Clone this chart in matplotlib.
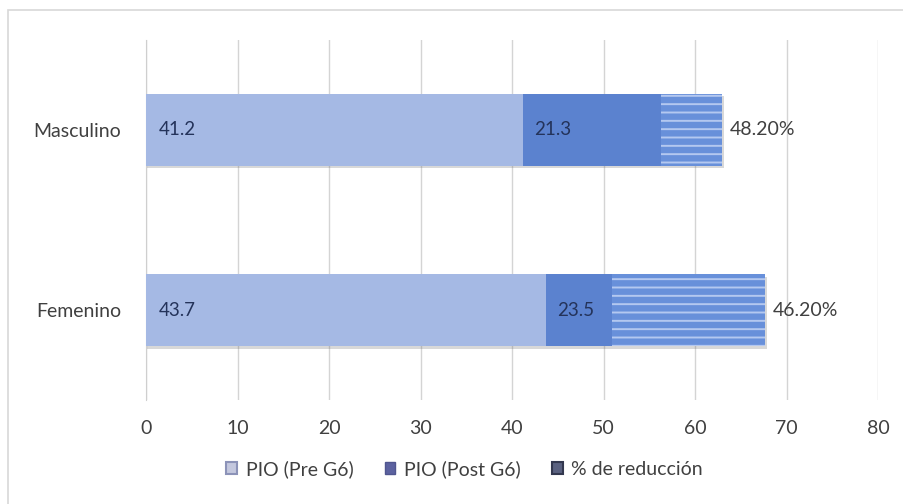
import matplotlib
matplotlib.use("Agg")
import matplotlib.pyplot as plt
import matplotlib.patheffects as pe
from matplotlib.patches import Patch, Rectangle
import numpy as np

plt.rcParams['font.family'] = ['Lato', 'DejaVu Sans']
plt.rcParams['hatch.linewidth'] = 1.4

categories = ["Femenino", "Masculino"]
pio_pre = [43.7, 41.2]
pio_post = [23.5, 21.3]
reduccion_pct = [46.2, 48.2]
# start of the striped band drawn over the post segment
stripe_from = [50.9, 56.3]

c_pre = "#a5b9e4"
c_post = "#5b82cf"
c_stripe_bg = "#6890da"
txt = "#404040"
fs = 14

fig = plt.figure(figsize=(9.04, 5.04), dpi=100)
ax = fig.add_axes([0.1615, 0.206, 0.810, 0.715])

y = np.arange(len(categories))
h = 0.40
pre = np.array(pio_pre)
post = np.array(pio_post)
pct = np.array(reduccion_pct) / 100.0
ends = pre + post + pct

shadow = [pe.SimplePatchShadow(offset=(1.0, -1.8), shadow_rgbFace="#666666", alpha=0.25),
          pe.Normal()]

# soft drop shadow under the full stacked bar
ax.barh(y, ends, height=h, color="#8da4d6", edgecolor="none", zorder=2,
        path_effects=shadow)
ax.barh(y, pre, height=h, color=c_pre, edgecolor="none", zorder=3)
ax.barh(y, post, left=pre, height=h, color=c_post, edgecolor="none", zorder=3)
ax.barh(y, pct, left=pre + post, height=h, color=c_stripe_bg, edgecolor="none", zorder=3)
sf = np.array(stripe_from)
ax.barh(y, ends - sf, left=sf, height=h, color=c_stripe_bg, edgecolor="#b4c8f0",
        hatch="--", linewidth=0, zorder=4)

for i in range(len(categories)):
    ax.text(1.4, y[i], f"{pio_pre[i]:.1f}", va="center", ha="left",
            fontsize=fs - 0.5, color="#24335a", zorder=5)
    ax.text(pre[i] + 1.2, y[i], f"{pio_post[i]:.1f}", va="center", ha="left",
            fontsize=fs - 0.5, color="#24335a", zorder=5)
    ax.text(ends[i] + 0.8, y[i], f"{reduccion_pct[i]:.2f}%", va="center", ha="left",
            fontsize=fs, color=txt, zorder=5)

ax.set_xlim(0, 80)
ax.set_ylim(-0.5, 1.5)
ax.set_xticks(np.arange(0, 81, 10))
ax.set_yticks(y)
ax.set_yticklabels(categories)
ax.tick_params(axis="both", length=0, labelsize=fs, colors=txt)
ax.tick_params(axis="x", pad=14)
ax.tick_params(axis="y", pad=18)
ax.grid(axis="x", color="#d4d4d4", linewidth=1, zorder=0)
for s in ["top", "right", "bottom"]:
    ax.spines[s].set_visible(False)
ax.spines["left"].set_color("#cfcfcf")

handles = [Patch(facecolor="#c4c8de", edgecolor="#8c93b8", linewidth=1.5, label="PIO (Pre G6)"),
           Patch(facecolor="#5c62a0", edgecolor="#50568f", label="PIO (Post G6)"),
           Patch(facecolor="#5a6180", edgecolor="#33384f", linewidth=1.5, label="% de reducción")]
fig.legend(handles=handles, loc="center", bbox_to_anchor=(0.514, 0.069), ncol=3,
           frameon=False, fontsize=fs, handlelength=0.55, handleheight=0.55,
           handletextpad=0.45, columnspacing=1.6, labelcolor=txt)

fig.patches.append(Rectangle((0.009, -0.02), 1.2, 1.0, transform=fig.transFigure,
                             fill=False, edgecolor="#d8d8d8", linewidth=1.2))

fig.savefig("out.png", dpi=100, facecolor="white")
